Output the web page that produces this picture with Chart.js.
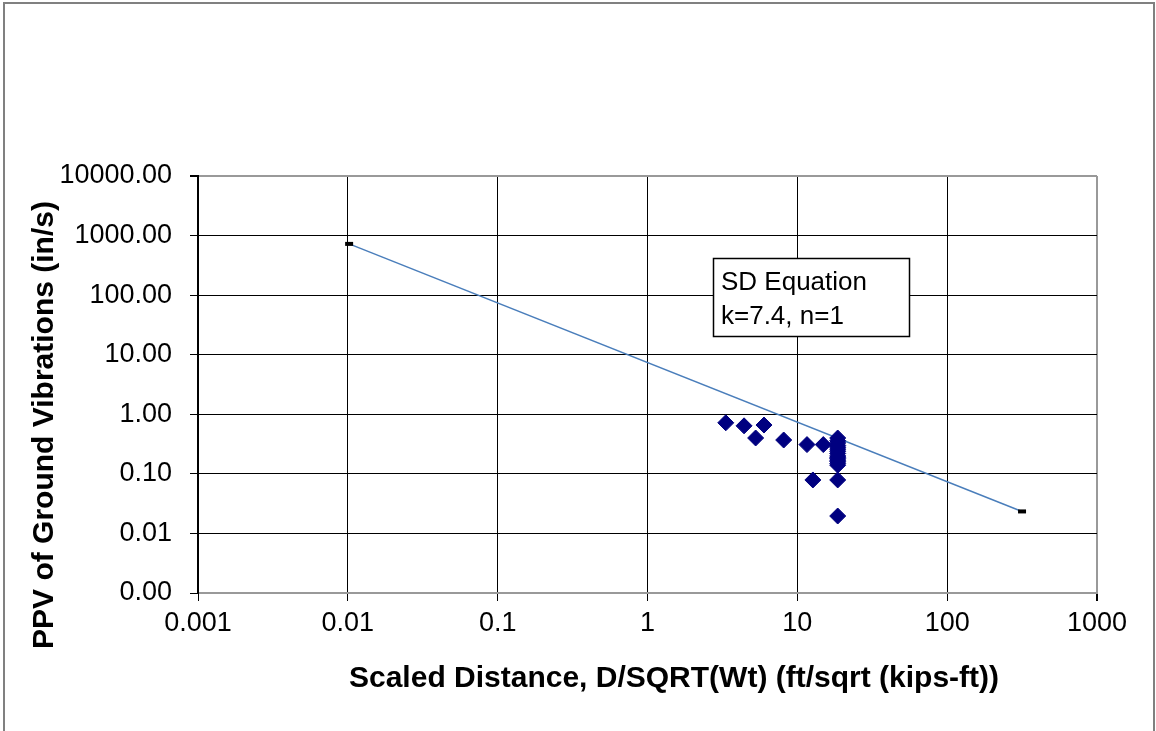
<!DOCTYPE html>
<html>
<head>
<meta charset="utf-8">
<title>PPV vs Scaled Distance</title>
<script src="https://cdn.jsdelivr.net/npm/chart.js@4.4.1/dist/chart.umd.min.js"></script>
<style>
  html, body { margin: 0; padding: 0; background: #fff; }
</style>
</head>
<body>
<canvas id="myChart" width="1156" height="731"></canvas>
<script>
// Measured data: scaled distance (ft/sqrt(kips-ft)) vs PPV (in/s)
const scaledDistance = [3.33, 4.41, 5.27, 5.99, 8.11, 11.6, 14.9, 12.7,
    18.6, 18.6, 18.6, 18.6, 18.6, 18.6, 18.6, 18.6, 18.6, 18.6, 18.6, 18.6,
    18.6, 18.6, 18.6, 18.6, 18.6];
const ppv = [0.72, 0.64, 0.40, 0.66, 0.37, 0.31, 0.31, 0.079,
    0.40, 0.36, 0.33, 0.30, 0.28, 0.26, 0.24, 0.22, 0.20, 0.19, 0.18, 0.17,
    0.16, 0.15, 0.14, 0.079, 0.0196];

// SD equation line (k=7.4, n=1)
const lineDistance = [0.0102, 316];
const linePPV = [725, 0.0234];

const xTicks = [0.001, 0.01, 0.1, 1, 10, 100, 1000];
const yTicks = [0.001, 0.01, 0.1, 1, 10, 100, 1000, 10000];

const FONT = '"Liberation Sans", Arial, sans-serif';

// draws the axis titles, the equation box and the outer frame
const extras = {
    id: 'extras',
    afterDraw(chart) {
        const ctx = chart.ctx;
        ctx.save();
        ctx.fillStyle = '#000';

        ctx.font = 'bold 30px ' + FONT;
        ctx.textAlign = 'center';
        ctx.textBaseline = 'middle';
        ctx.fillText('Scaled Distance, D/SQRT(Wt) (ft/sqrt (kips-ft))', 674, 679);

        ctx.save();
        ctx.translate(45, 425);
        ctx.rotate(-Math.PI / 2);
        ctx.fillText('PPV of Ground Vibrations (in/s)', 0, 0);
        ctx.restore();

        // equation box
        ctx.fillStyle = '#fff';
        ctx.fillRect(713, 258, 197, 79);
        ctx.strokeStyle = '#000';
        ctx.lineWidth = 1.5;
        ctx.strokeRect(713.5, 258.5, 196, 78);
        ctx.fillStyle = '#000';
        ctx.font = '26px ' + FONT;
        ctx.textAlign = 'left';
        ctx.textBaseline = 'alphabetic';
        ctx.fillText('SD Equation', 721, 290);
        ctx.fillText('k=7.4, n=1', 721, 324);

        // outer frame
        ctx.strokeStyle = '#808080';
        ctx.lineWidth = 2;
        ctx.strokeRect(4, 3, 1150, 740);
        ctx.restore();
    }
};

function setupChart() {
    const ctx = document.getElementById('myChart').getContext('2d');
    new Chart(ctx, {
        type: 'scatter',
        data: {
            datasets: [{
                label: 'Measured',
                data: scaledDistance.map((x, i) => ({ x: x, y: ppv[i] })),
                pointStyle: 'rectRot',
                pointRadius: 8,
                backgroundColor: '#000080',
                borderColor: '#000080',
                borderWidth: 1,
                showLine: false
            }, {
                label: 'SD Equation',
                data: lineDistance.map((x, i) => ({ x: x, y: linePPV[i] })),
                showLine: true,
                borderColor: '#4a7ebb',
                borderWidth: 1.5,
                pointStyle: 'line',
                pointRadius: 4,
                pointBorderWidth: 4,
                pointBorderColor: '#000',
                pointBackgroundColor: '#000'
            }]
        },
        options: {
            responsive: false,
            animation: false,
            devicePixelRatio: 1,
            layout: { padding: { left: 0, top: 176, right: 59, bottom: 0 } },
            plugins: {
                legend: { display: false },
                tooltip: { enabled: false }
            },
            scales: {
                x: {
                    type: 'logarithmic',
                    min: 0.001,
                    max: 1000,
                    afterBuildTicks: s => { s.ticks = xTicks.map(v => ({ value: v })); },
                    afterFit: s => { s.height = 138; },
                    ticks: {
                        autoSkip: false,
                        maxRotation: 0,
                        padding: 6,
                        color: '#000',
                        font: { family: FONT, size: 27 },
                        callback: v => String(v)
                    },
                    grid: {
                        color: c => c.index === xTicks.length - 1 ? '#999' : '#000',
                        tickColor: '#000',
                        tickLength: 8,
                        lineWidth: c => c.index === xTicks.length - 1 ? 2 : 1
                    },
                    border: { color: '#999', width: 2 }
                },
                y: {
                    type: 'logarithmic',
                    min: 0.001,
                    max: 10000,
                    afterBuildTicks: s => { s.ticks = yTicks.map(v => ({ value: v })); },
                    afterFit: s => { s.width = 198; },
                    ticks: {
                        autoSkip: false,
                        padding: 18,
                        color: '#000',
                        font: { family: FONT, size: 27 },
                        callback: v => Number(v).toFixed(2)
                    },
                    grid: {
                        color: c => c.index === yTicks.length - 1 ? '#999' : '#000',
                        tickColor: '#000',
                        tickLength: 8,
                        lineWidth: c => c.index === yTicks.length - 1 ? 2 : 1
                    },
                    border: { color: '#000', width: 2 }
                }
            }
        },
        plugins: [extras]
    });
}

window.onload = setupChart;
</script>
</body>
</html>
